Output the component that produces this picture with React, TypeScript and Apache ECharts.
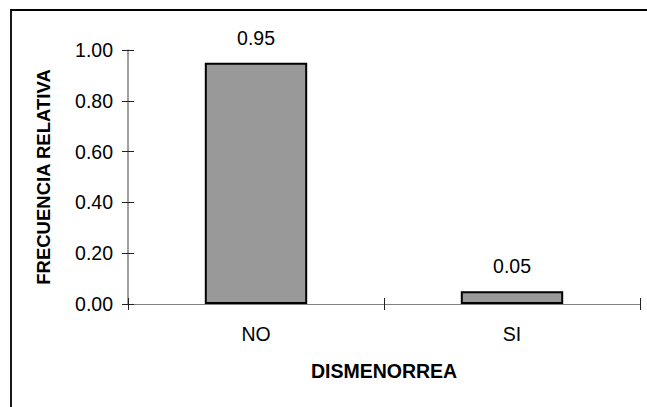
import React, { useEffect, useRef } from "react";
import * as echarts from "echarts";

const categories = ["NO", "SI"];
const values = [0.95, 0.05];
const yTicks = { min: 0, max: 1, interval: 0.2 };
const xTitle = "DISMENORREA";
const yTitle = "FRECUENCIA RELATIVA";

export default function App() {
  const ref = useRef<HTMLDivElement>(null);
  useEffect(() => {
    const chart = echarts.init(ref.current!, null, { renderer: "svg" });
    const font = "Liberation Sans, Arial, sans-serif";
    const fmt = (v: number) => v.toFixed(2);
    chart.setOption({
      animation: false,
      backgroundColor: "#fff",
      graphic: [
        {
          type: "rect",
          shape: { x: 11, y: 10, width: 800, height: 600 },
          style: { fill: "none", stroke: "#000", lineWidth: 1.8 },
          silent: true,
        },
      ],
      grid: { left: 128, top: 50, right: 7, bottom: 103 },
      xAxis: [
        {
          type: "category",
          data: categories,
          position: "bottom",
          boundaryGap: true,
          axisLine: { lineStyle: { color: "#808080", width: 1.2 } },
          axisTick: { show: true, length: 6, inside: false, lineStyle: { color: "#222", width: 1 } },
          axisLabel: { color: "#000", fontSize: 19.5, fontFamily: font, margin: 20 },
          name: xTitle,
          nameLocation: "middle",
          nameGap: 57,
          nameTextStyle: { color: "#000", fontSize: 19.5, fontWeight: "bold", fontFamily: font },
        },
        {
          type: "category",
          data: categories,
          position: "bottom",
          boundaryGap: true,
          axisLine: { show: false },
          axisTick: { show: true, length: 6, inside: true, lineStyle: { color: "#222", width: 1 } },
          axisLabel: { show: false },
        },
      ],
      yAxis: [
        {
          type: "value",
          position: "left",
          min: yTicks.min,
          max: yTicks.max,
          interval: yTicks.interval,
          splitLine: { show: false },
          axisLine: { show: true, lineStyle: { color: "#808080", width: 1.5 } },
          axisTick: { show: true, length: 6, lineStyle: { color: "#222", width: 1 } },
          axisLabel: {
            color: "#000",
            fontSize: 19.5,
            fontFamily: font,
            margin: 15,
            formatter: fmt,
          },
          name: yTitle,
          nameLocation: "middle",
          nameGap: 75,
          nameRotate: 90,
          nameTextStyle: { color: "#000", fontSize: 18.5, fontWeight: "bold", fontFamily: font },
        },
        {
          type: "value",
          position: "left",
          min: yTicks.min,
          max: yTicks.max,
          interval: yTicks.interval,
          splitLine: { show: false },
          axisLine: { show: false },
          axisTick: { show: true, inside: true, length: 6, lineStyle: { color: "#222", width: 1 } },
          axisLabel: { show: false },
        },
      ],
      series: [
        {
          type: "bar",
          xAxisIndex: 0,
          yAxisIndex: 0,
          data: values,
          barWidth: "40%",
          itemStyle: { color: "#999999", borderColor: "#000", borderWidth: 2 },
          label: {
            show: true,
            position: "top",
            distance: 15,
            color: "#000",
            fontSize: 19.5,
            fontFamily: font,
            formatter: (p: any) => fmt(p.value),
          },
        },
      ],
    });
    return () => chart.dispose();
  }, []);
  return <div ref={ref} style={{ width: 647, height: 407, position: "absolute", left: 0, top: 0 }} />;
}
